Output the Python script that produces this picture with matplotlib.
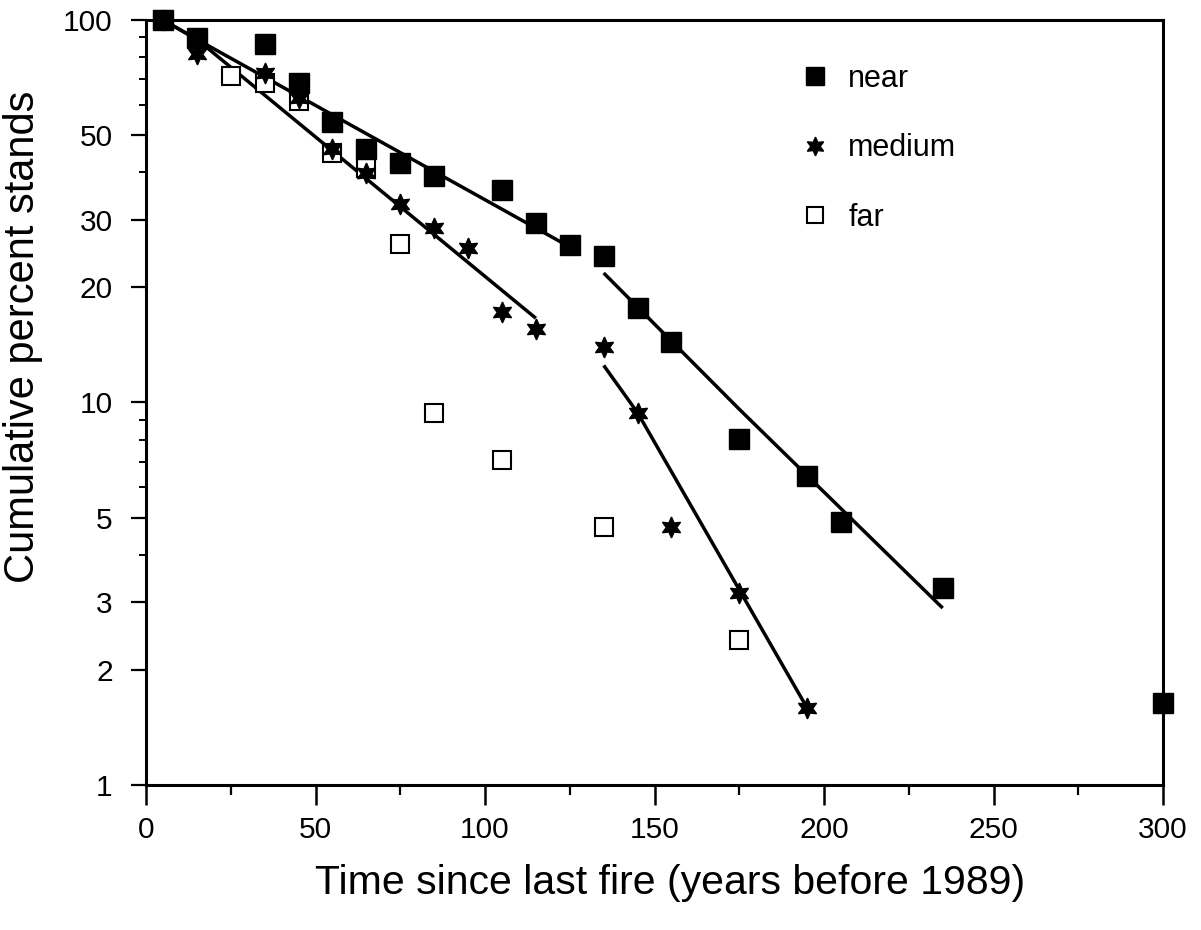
import numpy as np
import matplotlib.pyplot as plt
from matplotlib.ticker import FixedLocator, NullFormatter

plt.rcParams['font.family'] = ['Liberation Sans', 'DejaVu Sans']

# cumulative percent of stands by time since last fire
near_x = [5, 15, 35, 45, 55, 65, 75, 85, 105, 115, 125, 135, 145, 155, 175, 195, 205, 235, 300]
near_y = [100, 89.8, 86.6, 68.5, 54.2, 46.1, 42.4, 39.2, 36.0, 29.4, 25.8, 24.2, 17.7, 14.4, 8.03, 6.43, 4.88, 3.27, 1.64]

medium_x = [5, 15, 35, 45, 55, 65, 75, 85, 95, 105, 115, 135, 145, 155, 175, 195]
medium_y = [100, 81.5, 72.7, 62.6, 46.1, 39.7, 33.1, 28.5, 25.3, 17.2, 15.6, 14.0, 9.39, 4.73, 3.17, 1.59]

far_x = [5, 25, 35, 45, 55, 65, 75, 85, 105, 135, 175]
far_y = [100, 71.5, 68.5, 61.5, 45.0, 41.1, 25.9, 9.39, 7.08, 4.73, 2.39]

# fitted segments
near_fit1_x = [5, 15, 125]
near_fit1_y = [100, 89, 25.5]
near_fit2_x = [135, 175, 235]
near_fit2_y = [21.8, 9.6, 2.9]
medium_fit1_x = [5, 15, 115]
medium_fit1_y = [100, 89, 16.6]
medium_fit2_x = [135, 145, 195]
medium_fit2_y = [12.5, 9.4, 1.59]

y_major = [1, 2, 3, 5, 10, 20, 30, 50, 100]
y_minor = [4, 6, 7, 8, 9, 40, 60, 70, 80, 90]
x_major = [0, 50, 100, 150, 200, 250, 300]
x_minor = [25, 75, 125, 175, 225, 275]

hexstar = (6, 1, 0)

fig = plt.figure(figsize=(12.01, 9.30), dpi=100)
ax = fig.add_axes([0.1216, 0.156, 0.8468, 0.8225])

for fx, fy in [(near_fit1_x, near_fit1_y), (near_fit2_x, near_fit2_y),
               (medium_fit1_x, medium_fit1_y), (medium_fit2_x, medium_fit2_y)]:
    ax.plot(fx, fy, color='black', lw=2.5, solid_capstyle='butt', zorder=2)

ax.plot(far_x, far_y, ls='none', marker='s', ms=13.5, mfc='white', mec='black',
        mew=1.5, label='far', clip_on=False, zorder=3)
ax.plot(medium_x, medium_y, ls='none', marker=hexstar, ms=15, color='black',
        label='medium', clip_on=False, zorder=4)
ax.plot(near_x, near_y, ls='none', marker='s', ms=14, color='black',
        label='near', clip_on=False, zorder=5)

ax.set_yscale('log')
ax.set_xlim(0, 300)
ax.set_ylim(1, 100)

ax.yaxis.set_major_locator(FixedLocator(y_major))
ax.yaxis.set_minor_locator(FixedLocator(y_minor))
ax.set_yticklabels([str(v) for v in y_major])
ax.yaxis.set_minor_formatter(NullFormatter())
ax.xaxis.set_major_locator(FixedLocator(x_major))
ax.xaxis.set_minor_locator(FixedLocator(x_minor))
ax.set_xticklabels([str(v) for v in x_major])

ax.tick_params(axis='y', which='major', direction='out', length=11, width=1.6,
               labelsize=21.5, pad=13)
ax.tick_params(axis='y', which='minor', direction='out', length=5, width=1.4)
ax.tick_params(axis='x', which='major', direction='out', length=14.5, width=1.8,
               labelsize=21.5, pad=8)
ax.tick_params(axis='x', which='minor', direction='out', length=7, width=1.6)

for side in ['left', 'right', 'top', 'bottom']:
    ax.spines[side].set_linewidth(2.2)

ax.set_xlabel('Time since last fire (years before 1989)', fontsize=29.5)
ax.set_ylabel('Cumulative percent stands', fontsize=30)
ax.xaxis.set_label_coords(0.515, -0.104)
ax.yaxis.set_label_coords(-0.101, 0.586)

h, l = ax.get_legend_handles_labels()
order = [2, 1, 0]
ax.legend([h[i] for i in order], [l[i] for i in order], loc='upper left',
          bbox_to_anchor=(0.643, 0.943), frameon=False, fontsize=22,
          handlelength=1.0, handletextpad=0.58, labelspacing=1.3,
          borderpad=0, borderaxespad=0, numpoints=1, markerscale=0.9)

fig.savefig('out.png', dpi=100)
